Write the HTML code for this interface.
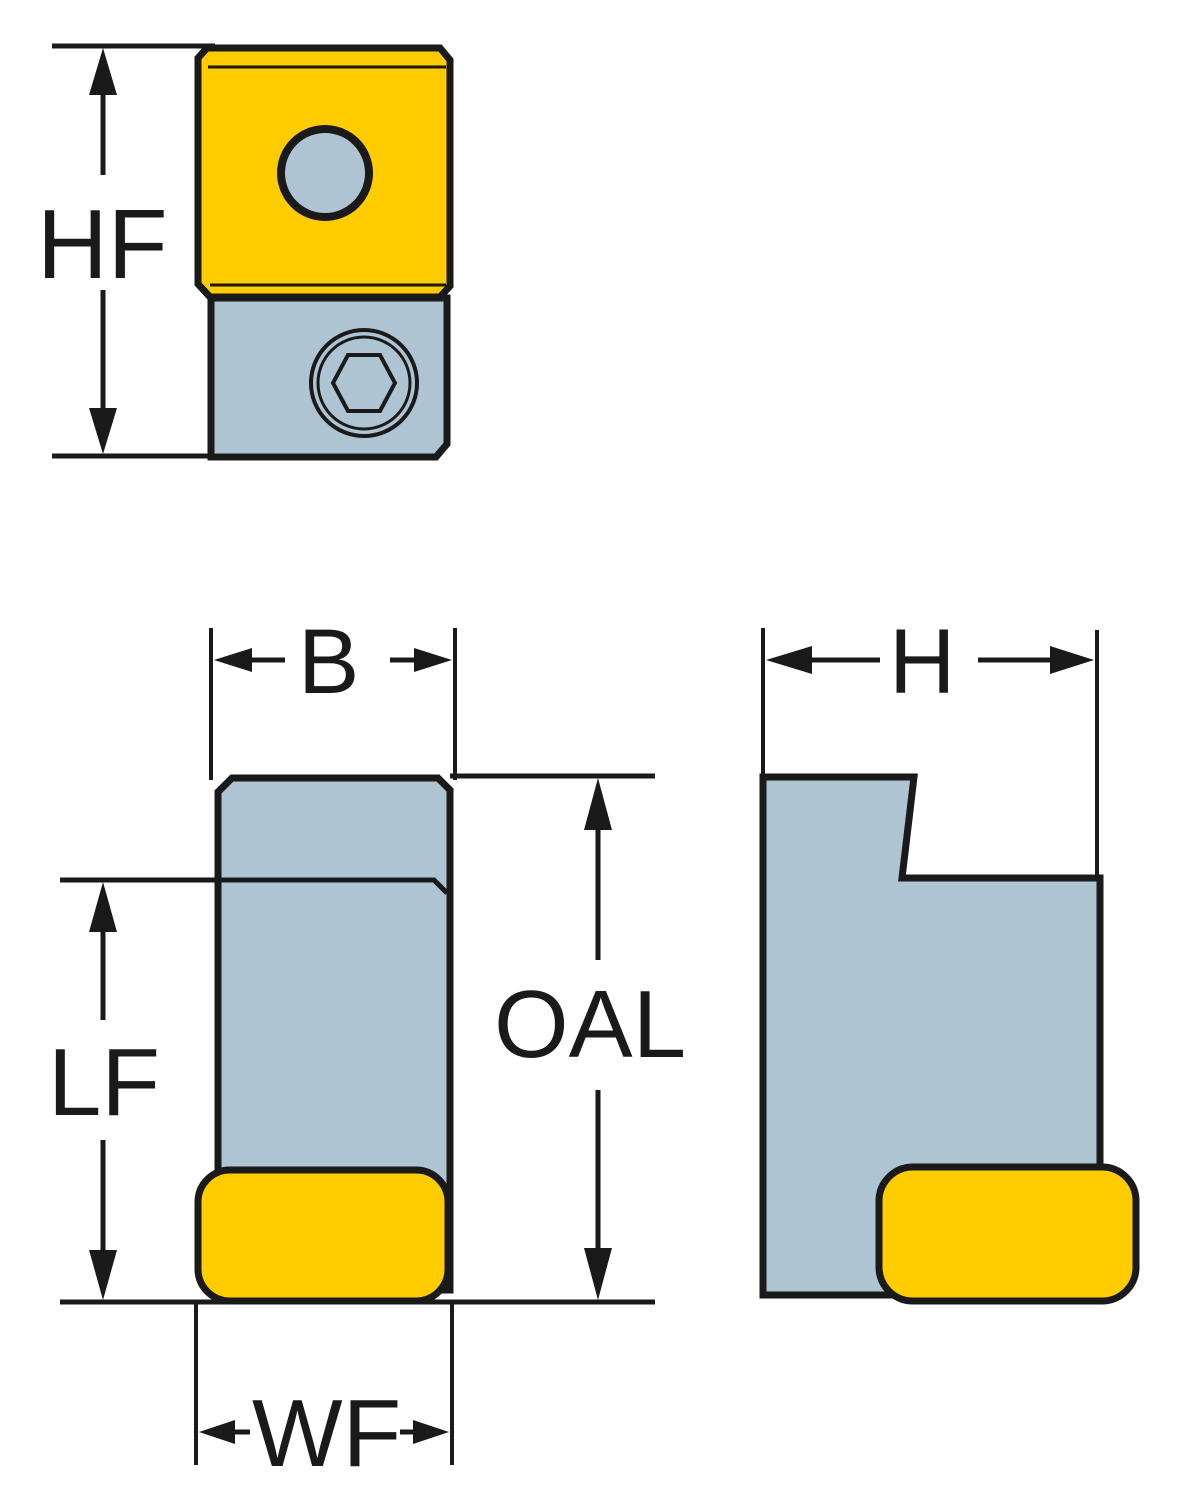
<!DOCTYPE html>
<html><head><style>html,body{margin:0;padding:0;background:#fff}svg{display:block}text{font-family:"Liberation Sans",sans-serif;fill:#1a1a1a}</style></head>
<body>
<svg width="1181" height="1500" viewBox="0 0 1181 1500" xmlns="http://www.w3.org/2000/svg">
<g stroke="#1a1a1a" fill="none">
<line x1="52" y1="46" x2="215" y2="46" stroke-width="5"/>
<line x1="52" y1="456" x2="215" y2="456" stroke-width="5"/>
<line x1="103" y1="90" x2="103" y2="175" stroke-width="5"/>
<line x1="103" y1="290" x2="103" y2="415" stroke-width="5"/>
</g>
<polygon points="103,48 89,95 117,95" fill="#1a1a1a"/>
<polygon points="103,454 89,408 117,408" fill="#1a1a1a"/>
<text x="37" y="278" font-size="98">HF</text>
<polygon points="207,48 440,48 450,60 450,286 440,297 210,297 198,284 198,58" fill="#FFCC00" stroke="#1a1a1a" stroke-width="7"/>
<line x1="208" y1="67" x2="446" y2="67" stroke="#1a1a1a" stroke-width="3"/>
<line x1="210" y1="285" x2="446" y2="285" stroke="#1a1a1a" stroke-width="3"/>
<circle cx="325" cy="173" r="44" fill="#AFC4D2" stroke="#1a1a1a" stroke-width="8"/>
<polygon points="211,298 447,298 447,444 436,457 211,457" fill="#AFC4D2" stroke="#1a1a1a" stroke-width="7"/>
<circle cx="364" cy="383" r="53" fill="none" stroke="#1a1a1a" stroke-width="4"/>
<circle cx="364" cy="383" r="46" fill="none" stroke="#1a1a1a" stroke-width="3"/>
<polygon points="348,355 380,355 395,383 380,411 348,411 333,383" fill="none" stroke="#1a1a1a" stroke-width="4"/>

<g stroke="#1a1a1a" fill="none" stroke-width="4">
<line x1="211" y1="628" x2="211" y2="780"/>
<line x1="455" y1="628" x2="455" y2="780"/>
<line x1="240" y1="660" x2="285" y2="660" stroke-width="5"/>
<line x1="390" y1="660" x2="425" y2="660" stroke-width="5"/>
<line x1="450" y1="776" x2="655" y2="776" stroke-width="5"/>
<line x1="60" y1="1302" x2="655" y2="1302" stroke-width="5"/>
<line x1="60" y1="880" x2="436" y2="880" stroke-width="5"/>
<line x1="598" y1="820" x2="598" y2="960" stroke-width="5"/>
<line x1="598" y1="1090" x2="598" y2="1255" stroke-width="5"/>
<line x1="103" y1="920" x2="103" y2="1020" stroke-width="5"/>
<line x1="103" y1="1140" x2="103" y2="1260" stroke-width="5"/>
<line x1="196" y1="1300" x2="196" y2="1465"/>
<line x1="452" y1="1300" x2="452" y2="1465"/>
<line x1="225" y1="1432" x2="250" y2="1432" stroke-width="5"/>
<line x1="400" y1="1432" x2="420" y2="1432" stroke-width="5"/>
</g>
<polygon points="214,660 252,648 252,672" fill="#1a1a1a"/>
<polygon points="452,660 414,648 414,672" fill="#1a1a1a"/>
<text x="298" y="693" font-size="92">B</text>
<polygon points="598,778 584,830 612,830" fill="#1a1a1a"/>
<polygon points="598,1300 584,1248 612,1248" fill="#1a1a1a"/>
<text x="494" y="1057" font-size="96">OAL</text>
<polygon points="103,882 89,932 117,932" fill="#1a1a1a"/>
<polygon points="103,1300 89,1250 117,1250" fill="#1a1a1a"/>
<text x="48" y="1115" font-size="96">LF</text>
<polygon points="199,1432 235,1420 235,1444" fill="#1a1a1a"/>
<polygon points="449,1432 413,1420 413,1444" fill="#1a1a1a"/>
<text x="252" y="1466" font-size="96">WF</text>

<polygon points="232,778 438,778 450,790 450,1290 218,1290 218,792" fill="#AFC4D2" stroke="#1a1a1a" stroke-width="7"/>
<polyline points="218,880 434,880 447,893" fill="none" stroke="#1a1a1a" stroke-width="5"/>
<rect x="198" y="1170" width="250" height="131" rx="32" fill="#FFCC00" stroke="#1a1a1a" stroke-width="7"/>

<g stroke="#1a1a1a" fill="none" stroke-width="4">
<line x1="763" y1="628" x2="763" y2="780"/>
<line x1="1097" y1="630" x2="1097" y2="878"/>
<line x1="800" y1="660" x2="880" y2="660" stroke-width="5"/>
<line x1="978" y1="660" x2="1060" y2="660" stroke-width="5"/>
</g>
<polygon points="766,660 812,646 812,674" fill="#1a1a1a"/>
<polygon points="1094,660 1050,646 1050,674" fill="#1a1a1a"/>
<text x="889" y="693" font-size="92">H</text>
<polygon points="763,777 914,777 902,878 1100,878 1100,1200 900,1295 763,1295" fill="#AFC4D2" stroke="#1a1a1a" stroke-width="7"/>
<rect x="879" y="1167" width="257" height="134" rx="34" fill="#FFCC00" stroke="#1a1a1a" stroke-width="7"/>
</svg>
</body></html>
